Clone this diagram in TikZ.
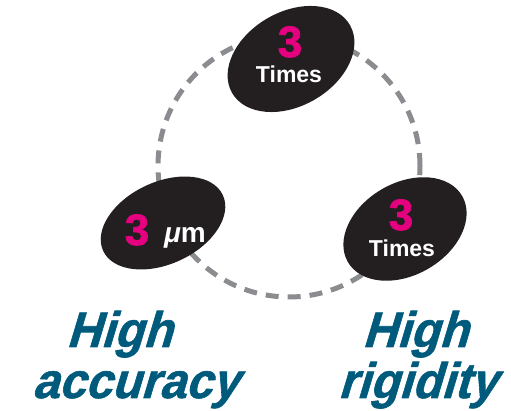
\documentclass[tikz,border=0pt]{standalone}
\usepackage{fontspec}
\setmainfont{Liberation Sans}
% extra weight for the digits and the captions
\newfontfamily\heavysans[BoldFeatures={FakeBold=1.6}]{Liberation Sans}
\newfontfamily\captionsans[BoldFeatures={FakeBold=1.2,FakeSlant=0.3,FakeStretch=0.95}]{Liberation Sans}
\definecolor{pinkno}{HTML}{E5007F}
\definecolor{ovalblack}{HTML}{231F20}
\definecolor{dashgray}{HTML}{8B8C8F}
\definecolor{titleblue}{HTML}{005A7C}
\tikzset{
  oval/.style={fill=ovalblack},
  bignum/.style={text=pinkno, anchor=base, inner sep=0pt, font=\fontsize{44}{44}\heavysans\bfseries},
  unit/.style={text=white, anchor=base, inner sep=0pt, font=\fontsize{23}{23}\selectfont\bfseries},
  feature/.style={text=titleblue, anchor=base, inner sep=0pt, font=\fontsize{50}{50}\captionsans\bfseries}
}
\begin{document}
\begin{tikzpicture}[x=1pt, y=1pt, line join=round]
  \useasboundingbox (0,0) rectangle (511,411);
  % ring behind the three ovals
  \draw[dashgray, line width=5pt, dash pattern=on 13pt off 9pt] (289,245) circle (131);
  % ovals
  \fill[oval, rotate around={30:(291,352)}] (291,352) ellipse [x radius=68, y radius=47];
  \fill[oval, rotate around={25:(163,188)}] (163,188) ellipse [x radius=66, y radius=41];
  \fill[oval, rotate around={30:(405,182)}] (405,182) ellipse [x radius=66, y radius=46];
  % top
  \node[bignum] (topnum) at (290,354) {3};
  \node[unit] (topunit) at (289,328) {Times};
  % left
  \node[bignum] (leftnum) at (137,166) {3};
  \node[unit, font=\fontsize{28}{28}\selectfont\bfseries] (leftunit) at (185,168) {\textit{μ}m};
  % right
  \node[bignum] (rightnum) at (401,181) {3};
  \node[unit] (rightunit) at (402,154) {Times};
  % captions
  \node[feature] (acc1) at (119,64) {High};
  \node[feature] (acc2) at (135,13) {accuracy};
  \node[feature] (rig1) at (415,64) {High};
  \node[feature] (rig2) at (417,13) {rigidity};
\end{tikzpicture}
\end{document}
